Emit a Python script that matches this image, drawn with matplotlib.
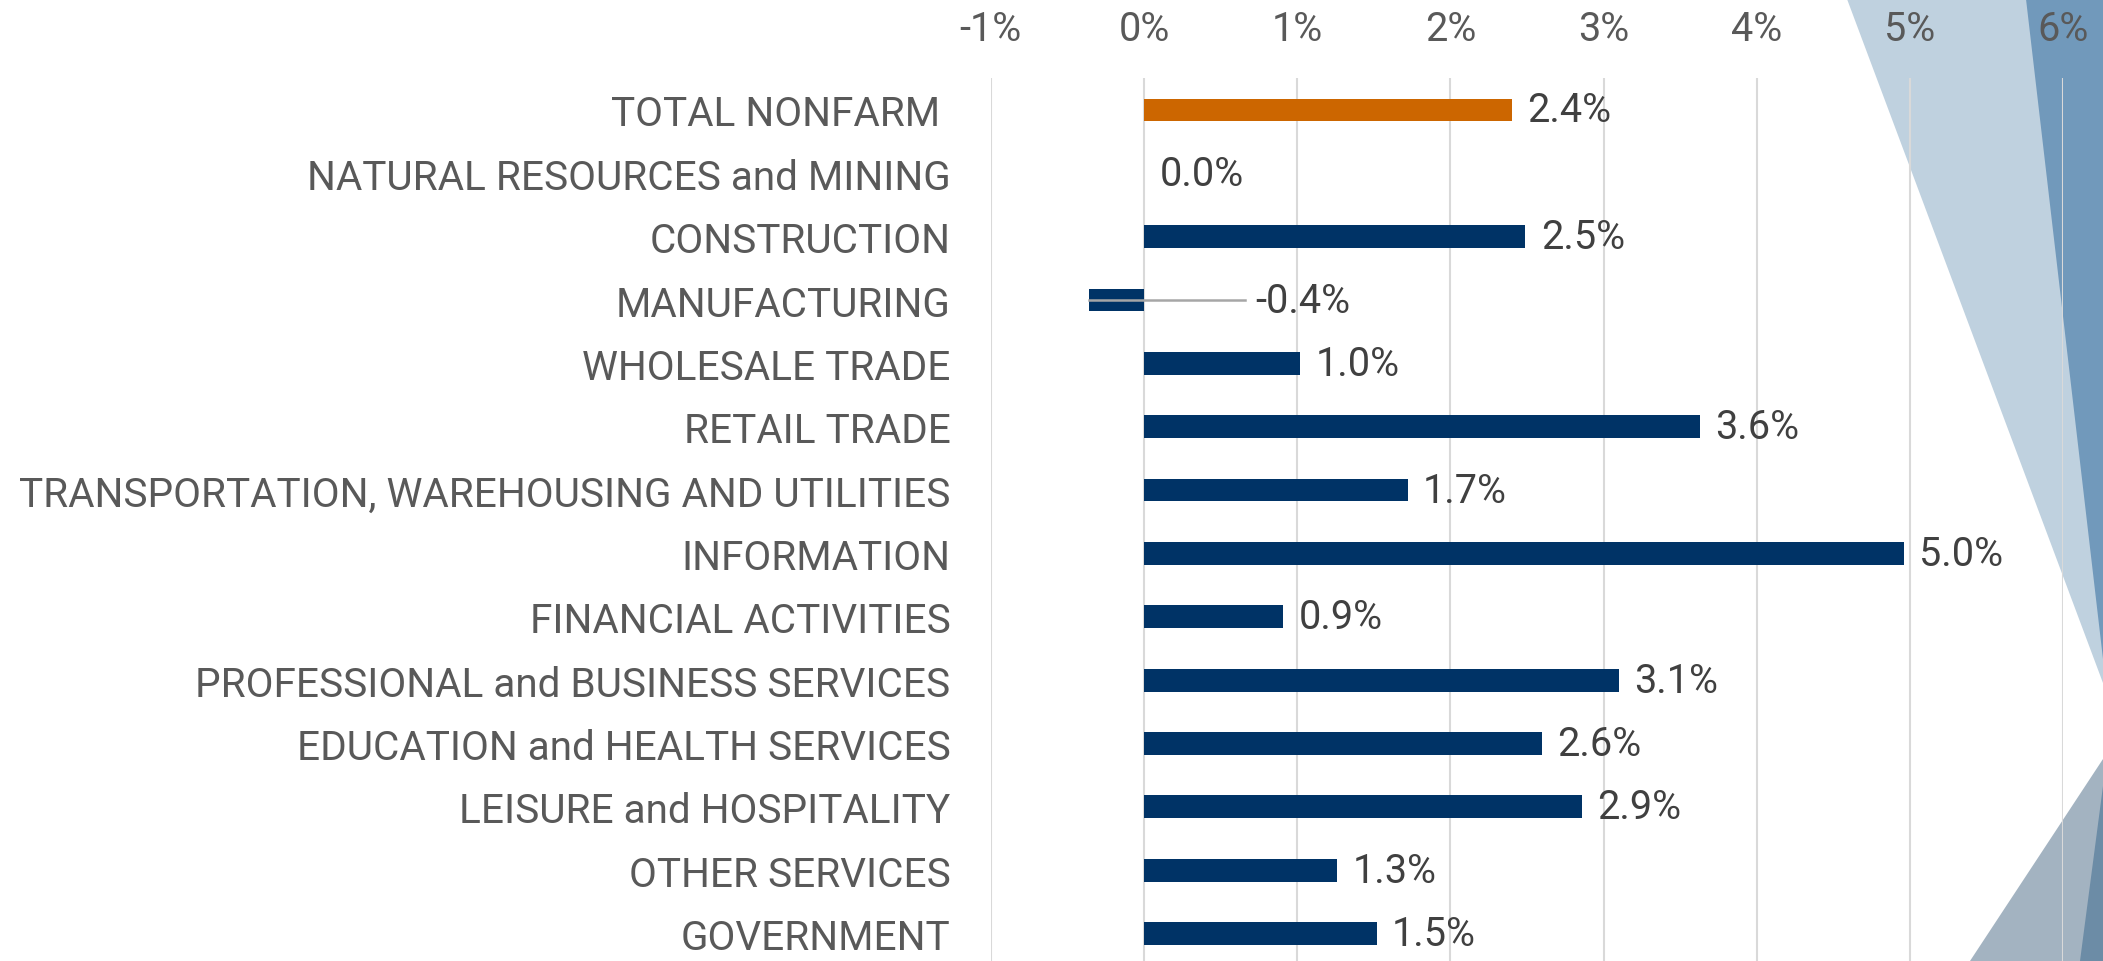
import matplotlib
matplotlib.use('Agg')
import matplotlib.pyplot as plt
from matplotlib.patches import Polygon

# employment growth by sector, % change
sectors = ["TOTAL NONFARM ", "NATURAL RESOURCES and MINING", "CONSTRUCTION",
           "MANUFACTURING", "WHOLESALE TRADE", "RETAIL TRADE",
           "TRANSPORTATION, WAREHOUSING AND UTILITIES", "INFORMATION",
           "FINANCIAL ACTIVITIES", "PROFESSIONAL and BUSINESS SERVICES",
           "EDUCATION and HEALTH SERVICES", "LEISURE and HOSPITALITY",
           "OTHER SERVICES", "GOVERNMENT"]
growth = [2.40, 0.0, 2.49, -0.36, 1.02, 3.63, 1.72, 4.96, 0.91, 3.10, 2.60, 2.86, 1.26, 1.52]
xticks = [-1, 0, 1, 2, 3, 4, 5, 6]

plt.rcParams['font.family'] = ['Roboto', 'DejaVu Sans']
fs = 28.5

W, H = 2103, 962
fig = plt.figure(figsize=(W / 100, H / 100), dpi=100)

# decorative triangles on the right edge
def px(pts):
    return [(x / W, 1 - y / H) for x, y in pts]

deco = [
    ([(1847, 0), (2103, 0), (2103, 684)], '#bfd1df'),
    ([(2026, 0), (2103, 0), (2103, 660)], '#7199bb'),
    ([(1970, 962), (2103, 760), (2103, 962)], '#a3b3c1'),
    ([(2080, 962), (2103, 787), (2103, 962)], '#6c8ca6'),
]
for pts, c in deco:
    fig.patches.append(Polygon(px(pts), closed=True, facecolor=c, edgecolor='none',
                               transform=fig.transFigure, zorder=0))

ax = fig.add_axes([990.8 / W, -0.0044, 1072.4 / W, 0.9220])
ax.set_zorder(1)
ax.set_facecolor('none')

ypos = list(range(len(sectors)))
colors = ['#cc6600'] + ['#003366'] * (len(sectors) - 1)
ax.barh(ypos, growth, height=0.36, color=colors, zorder=3)

for i, v in enumerate(growth):
    lab = f"{v:.1f}%"
    if v < 0:
        # leader line from bar to label
        ax.plot([v, 0.66], [i, i], color='#a6a6a6', lw=1.8, zorder=4)
        ax.annotate(lab, (0.66, i), xytext=(7, 0), textcoords='offset points',
                    va='center', ha='left', fontsize=fs, color='#404040')
    else:
        ax.annotate(lab, (v, i), xytext=(11, 0), textcoords='offset points',
                    va='center', ha='left', fontsize=fs, color='#404040')

ax.set_xlim(-1, 6)
ax.set_ylim(len(sectors) - 0.5, -0.5)
ax.set_xticks(xticks)
ax.set_xticklabels([f"{t}%" for t in xticks])
ax.xaxis.tick_top()
ax.tick_params(axis='x', length=0, pad=22, labelsize=fs, labelcolor='#595959')
ax.set_yticks(ypos)
ax.set_yticklabels(sectors)
ax.tick_params(axis='y', length=0, pad=29, labelsize=29.2, labelcolor='#595959')
ax.grid(axis='x', color='#d9d9d9', lw=1.5, zorder=0)
for s in ax.spines.values():
    s.set_visible(False)

fig.savefig('out.png', dpi=100)
